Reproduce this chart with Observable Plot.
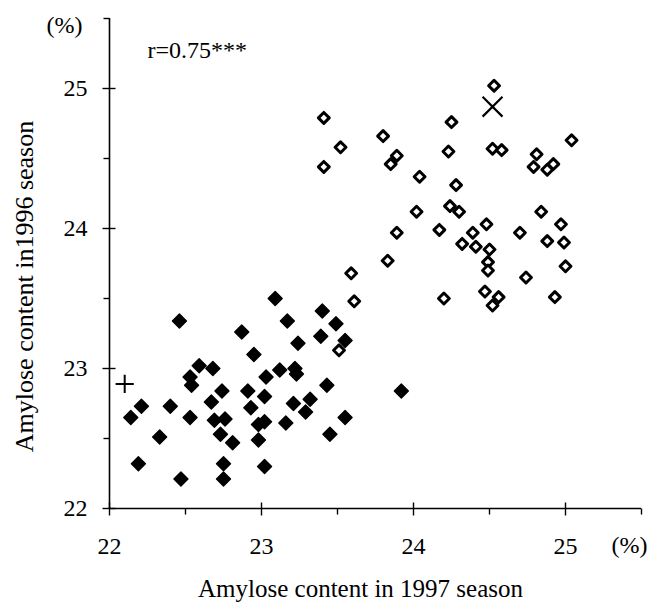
<!DOCTYPE html>
<html>
<head>
<meta charset="utf-8">
<script src="https://cdn.jsdelivr.net/npm/d3@7"></script>
<script src="https://cdn.jsdelivr.net/npm/@observablehq/plot@0.6"></script>
<style>
  html, body { margin: 0; padding: 0; background: #fff; }
  #chart svg { display: block; }
</style>
</head>
<body>
<div id="chart"></div>
<script>
// Lines with low amylose (filled diamonds): 1997 season (x) and 1996 season (y)
const filledX = [23.09, 22.46, 23.17, 23.40, 23.49, 22.87, 23.24, 23.39, 23.55, 22.95,
                 22.59, 22.68, 23.12, 23.22, 23.23, 22.53, 22.54, 23.03, 22.74, 22.91,
                 23.43, 22.67, 22.93, 23.02, 23.21, 23.32, 23.29, 22.21, 22.14, 22.40,
                 22.53, 22.69, 22.76, 22.98, 23.02, 22.73, 22.81, 23.16, 22.98, 23.45,
                 23.55, 22.33, 22.19, 22.75, 23.02, 22.47, 22.75, 23.92];
const filledY = [23.50, 23.34, 23.34, 23.41, 23.32, 23.26, 23.18, 23.23, 23.20, 23.10,
                 23.02, 23.00, 22.99, 23.00, 22.96, 22.94, 22.88, 22.94, 22.84, 22.84,
                 22.88, 22.76, 22.72, 22.80, 22.75, 22.78, 22.69, 22.73, 22.65, 22.73,
                 22.65, 22.63, 22.64, 22.60, 22.62, 22.53, 22.47, 22.61, 22.49, 22.53,
                 22.65, 22.51, 22.32, 22.32, 22.30, 22.21, 22.21, 22.84];

// Lines with high amylose (open diamonds)
const openX = [24.53, 23.41, 24.25, 23.80, 23.52, 25.04, 24.52, 24.58, 23.41, 23.89,
               23.85, 24.23, 24.81, 24.79, 24.92, 24.88, 24.04, 24.28, 24.24, 24.30,
               24.02, 24.84, 23.89, 24.17, 24.48, 24.39, 24.32, 24.41, 24.50, 24.70,
               24.97, 24.88, 24.99, 24.49, 24.49, 23.83, 23.59, 25.00, 24.74, 23.61,
               24.20, 24.47, 24.56, 24.52, 24.93, 23.51];
const openY = [25.02, 24.79, 24.76, 24.66, 24.58, 24.63, 24.57, 24.56, 24.44, 24.52,
               24.46, 24.55, 24.53, 24.44, 24.46, 24.42, 24.37, 24.31, 24.16, 24.12,
               24.12, 24.12, 23.97, 23.99, 24.03, 23.97, 23.89, 23.87, 23.85, 23.97,
               24.03, 23.91, 23.90, 23.76, 23.70, 23.77, 23.68, 23.73, 23.65, 23.48,
               23.50, 23.55, 23.51, 23.45, 23.51, 23.13];

// Special cultivars
const plusX = [22.10];  const plusY = [22.89];
const timesX = [24.52]; const timesY = [24.87];

// Axes
const xTicks = [22, 23, 24, 25];
const yTicks = [22, 23, 24, 25];
const xMinor = [22.5, 23.5, 24.5, 25.5];
const yMinor = [22.5, 23.5, 24.5, 25.5];
const domainX = [22, 25.5];
const domainY = [22, 25.5];

const xTitle = "Amylose content in 1997 season";
const yTitle = "Amylose content in1996 season";
const unitLabel = "(%)";
const corrLabel = "r=0.75***";

const filled = filledX.map((x, i) => ({x, y: filledY[i]}));
const open = openX.map((x, i) => ({x, y: openY[i]}));
const plusPts = plusX.map((x, i) => ({x, y: plusY[i]}));
const timesPts = timesX.map((x, i) => ({x, y: timesY[i]}));

// tick-mark shapes (pixel lengths)
const tickXMajor = {draw(c) { c.moveTo(0, -6); c.lineTo(0, 7); }};
const tickXMinor = {draw(c) { c.moveTo(0, 0); c.lineTo(0, 6); }};
const tickYMajor = {draw(c) { c.moveTo(-7, 0); c.lineTo(6, 0); }};
const tickYMinor = {draw(c) { c.moveTo(-6, 0); c.lineTo(0, 0); }};

const serif = "'Liberation Serif', 'DejaVu Serif', serif";

const chart = Plot.plot({
  width: 652,
  height: 603,
  marginLeft: 109,
  marginRight: 11,
  marginTop: 18,
  marginBottom: 95,
  style: {fontFamily: serif, fontSize: "24px", color: "#000", background: "#fff"},
  x: {domain: domainX},
  y: {domain: domainY},
  marks: [
    Plot.ruleX([domainX[0]], {stroke: "#000", strokeWidth: 1.6}),
    Plot.ruleY([domainY[0]], {stroke: "#000", strokeWidth: 1.6}),
    Plot.dot(xTicks, {x: d => d, frameAnchor: "bottom", symbol: tickXMajor, stroke: "#000", strokeWidth: 1.4, fill: "none"}),
    Plot.dot(xMinor, {x: d => d, frameAnchor: "bottom", symbol: tickXMinor, stroke: "#000", strokeWidth: 1.4, fill: "none"}),
    Plot.dot(yTicks, {y: d => d, frameAnchor: "left", symbol: tickYMajor, stroke: "#000", strokeWidth: 1.4, fill: "none"}),
    Plot.dot(yMinor, {y: d => d, frameAnchor: "left", symbol: tickYMinor, stroke: "#000", strokeWidth: 1.4, fill: "none"}),
    Plot.axisX({ticks: xTicks, tickFormat: d => String(d), tickSize: 0, tickPadding: 28, label: null, fontSize: 24, letterSpacing: 2}),
    Plot.axisY({ticks: yTicks, tickFormat: d => String(d), tickSize: 0, tickPadding: 22, label: null, fontSize: 24, letterSpacing: 2}),
    Plot.dot(filled, {x: "x", y: "y", symbol: "diamond2", r: 6.3, fill: "#000", stroke: "#000", strokeWidth: 1.4, strokeLinejoin: "round"}),
    Plot.dot(open, {x: "x", y: "y", symbol: "diamond2", r: 4.9, fill: "#fff", stroke: "#000", strokeWidth: 3, strokeLinejoin: "round"}),
    Plot.dot(plusPts, {x: "x", y: "y", symbol: "plus", r: 5.9, stroke: "#000", strokeWidth: 2}),
    Plot.dot(timesPts, {x: "x", y: "y", symbol: "times", r: 9.1, stroke: "#000", strokeWidth: 2.2}),
    Plot.text([xTitle], {frameAnchor: "bottom", textAnchor: "middle", lineAnchor: "middle", dx: -15, dy: 80, fontSize: 25, fill: "#000"}),
    Plot.text([yTitle], {frameAnchor: "left", textAnchor: "middle", lineAnchor: "middle", rotate: -90, dx: -85, dy: 23, fontSize: 26, fill: "#000"}),
    Plot.text([unitLabel], {frameAnchor: "top-left", textAnchor: "middle", lineAnchor: "middle", dx: -45, dy: 7, fontSize: 24, fill: "#000", letterSpacing: 1}),
    Plot.text([unitLabel], {frameAnchor: "bottom-right", textAnchor: "middle", lineAnchor: "middle", dx: -12, dy: 37, fontSize: 24, fill: "#000", letterSpacing: 1}),
    Plot.text([corrLabel], {frameAnchor: "top-left", textAnchor: "start", lineAnchor: "middle", dx: 38, dy: 32, fontSize: 24, fill: "#000", letterSpacing: 3})
  ]
});
document.getElementById("chart").appendChild(chart);
</script>
</body>
</html>
